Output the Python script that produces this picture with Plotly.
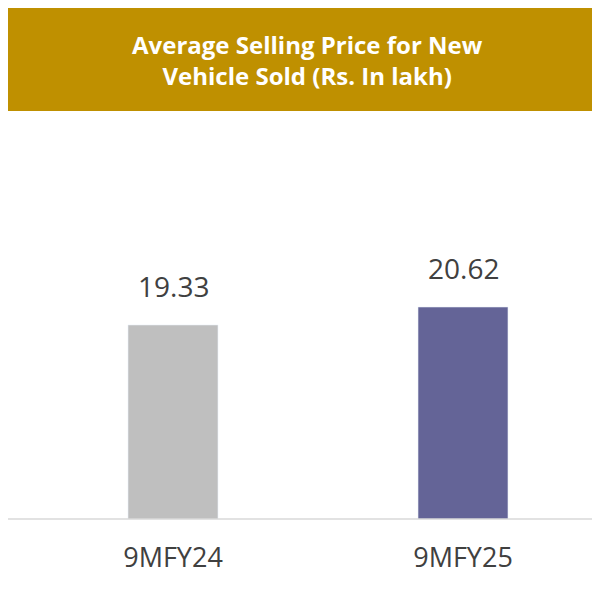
import plotly.graph_objects as go

categories = ["9MFY24", "9MFY25"]
values = [19.33, 20.62]
bar_colors = ["#BFBFBF", "#646497"]
title_lines = ["Average Selling Price for New", "Vehicle Sold (Rs. In lakh)"]

W, H = 600, 591
ml, mr, mt, mb = 20, 0, 110, 80
pw = W - ml - mr
ph = H - mt - mb

fig = go.Figure()
fig.add_trace(go.Bar(
    x=categories, y=values, marker_color=bar_colors,
    cliponaxis=False,
))
# value labels above bars
for c, v in zip(categories, values):
    fig.add_annotation(x=c, y=v, text=f"{v:.2f}", showarrow=False,
                       yanchor="bottom", yshift=18,
                       font=dict(size=28, color="#404040", family="Open Sans"))

# gold title banner
fig.add_shape(type="rect", xref="paper", yref="paper",
              x0=-ml / pw, x1=(597 - ml) / pw,
              y0=1 + 7 / ph, y1=1 + mt / ph,
              fillcolor="#BF9000", line_width=0)
fig.add_annotation(xref="paper", yref="paper", x=(299 - ml) / pw, y=1 + 58 / ph,
                   xanchor="center", yanchor="middle",
                   text="<b>" + "<br>".join(title_lines) + "</b>",
                   showarrow=False, font=dict(size=24, color="white", family="Open Sans"),
                   align="center")
# baseline
fig.add_shape(type="line", xref="paper", yref="paper",
              x0=-ml / pw, x1=(597 - ml) / pw, y0=0, y1=0,
              line=dict(color="#D9D9D9", width=1.5))

fig.update_layout(
    width=W, height=H, margin=dict(l=ml, r=mr, t=mt, b=mb, autoexpand=False),
    paper_bgcolor="white", plot_bgcolor="rgba(0,0,0,0)",
    bargap=0.69, showlegend=False,
    xaxis=dict(showline=False, tickfont=dict(size=27, color="#404040", family="Open Sans"),
               ticklen=0, ticklabelstandoff=20),
    yaxis=dict(range=[5.4, 34.2], visible=False, showgrid=False),
)

fig.write_html("out.html")
